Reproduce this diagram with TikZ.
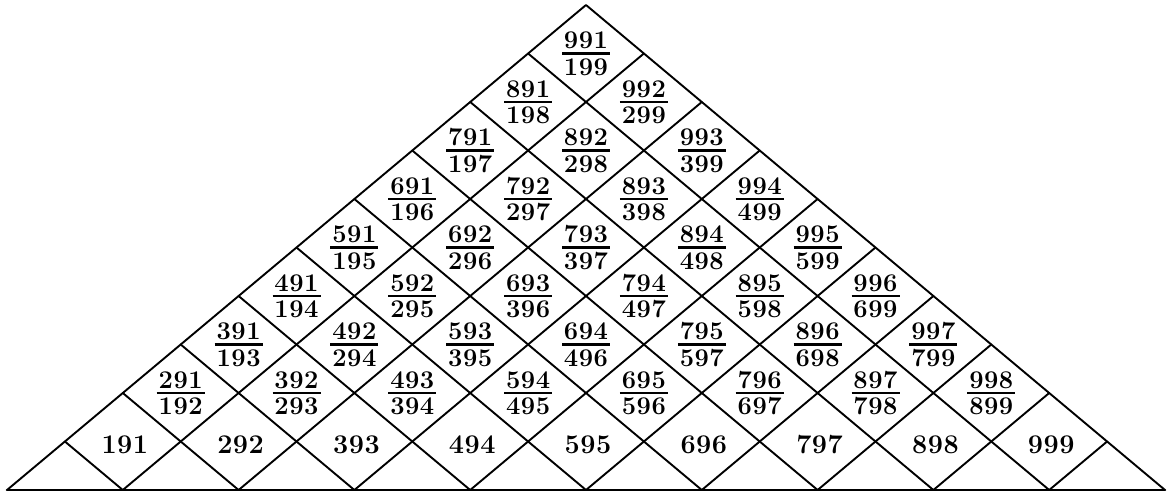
\documentclass[tikz,border=0pt]{standalone}
\newcommand\trip[3]{#1\kern0.5pt#2\kern0.5pt#3}
\tikzset{
  gridline/.style={line width=1.9pt, line cap=round, line join=round},
  baseline/.style={line width=2.6pt, line cap=round},
  single/.style={font=\fontsize{27}{27}\selectfont\bfseries, inner sep=0pt},
  fracnum/.style={font=\fontsize{25.5}{25.5}\selectfont\bfseries, inner sep=0pt, anchor=base},
  fracbar/.style={line width=2.4pt}
}
\begin{document}
\begin{tikzpicture}[x=1pt,y=-1pt]
\useasboundingbox (0,0) rectangle (1170,495);
\coordinate (L) at (7,490);
\coordinate (R) at (1165,490);
\coordinate (A) at (586,5);
\draw[gridline] (L) -- (A) -- (R);
\draw[baseline] (L) -- (R);
\foreach \k in {1,...,9}{
  \coordinate (B\k) at ({7+2*\k*57.9},490);
  \coordinate (RE\k) at ({7+(\k+10)*57.9},{490-(10-\k)*48.5});
  \coordinate (LE\k) at ({7+\k*57.9},{490-\k*48.5});
  \draw[gridline] (B\k) -- (RE\k);
  \draw[gridline] (B\k) -- (LE\k);
}
\foreach \q in {1,...,9}{
  \node[single] (c\q) at ({7+2*\q*57.9+2},{490-48.5+3}) {\trip\q9\q};
}
\foreach \p in {2,...,9}{
  \pgfmathtruncatemacro{\pm}{\p-1}
  \foreach \q in {1,...,\pm}{
    \pgfmathsetmacro{\cx}{7+(\p+\q)*57.9}
    \pgfmathsetmacro{\cy}{490-(\p-\q+1)*48.5}
    \coordinate (m\p\q) at (\cx,\cy);
    \node[fracnum] (n\p\q) at (\cx,\cy-5) {\trip\p9\q};
    \node[fracnum] (d\p\q) at (\cx,\cy+21.5) {\trip\q9\p};
    \draw[fracbar] ([xshift=-24pt]m\p\q) -- ([xshift=24pt]m\p\q);
  }
}
\end{tikzpicture}
\end{document}
